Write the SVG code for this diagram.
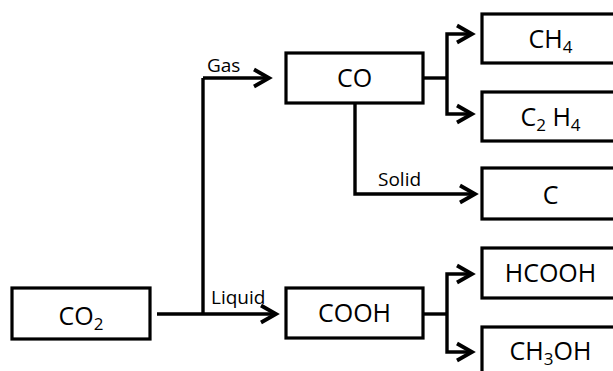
<svg xmlns="http://www.w3.org/2000/svg" width="613" height="371" viewBox="0 0 613 371">
<style>
.box{fill:#fff;stroke:#000;stroke-width:3.2}
.t{font-family:"Open Sans","Noto Sans","DejaVu Sans",sans-serif;font-size:25px;fill:#000;text-anchor:middle}
.s{font-size:17px}
.lbl{font-family:"Open Sans","Noto Sans","DejaVu Sans",sans-serif;font-size:19px;fill:#000}
.c{fill:none;stroke:#000;stroke-width:3.4;marker-end:url(#ah)}
.n{fill:none;stroke:#000;stroke-width:3.4}
</style>
<defs>
<marker id="ah" markerUnits="userSpaceOnUse" viewBox="-20 -12 24 24" refX="0" refY="0" markerWidth="24" markerHeight="24" orient="auto">
<path d="M-15,-8.5 L0,0 L-15,8.5" fill="none" stroke="#000" stroke-width="3.8"/>
</marker>
</defs>
<rect width="613" height="371" fill="#fff"/>
<g id="connectors">
<path class="c" d="M157,314 H276"/>
<path class="n" d="M203,314 V78"/>
<path class="c" d="M203,78 H269"/>
<path class="n" d="M423,78 H447"/>
<path class="c" d="M447,78 V34 H472"/>
<path class="c" d="M447,78 V114 H472"/>
<path class="c" d="M355,103 V194 H475"/>
<path class="n" d="M423,314 H447"/>
<path class="c" d="M447,314 V274 H472"/>
<path class="c" d="M447,314 V352 H472"/>
<text class="lbl" x="207" y="72">Gas</text>
<text class="lbl" x="211" y="304">Liquid</text>
<text class="lbl" x="378" y="186">Solid</text>
</g>
<g id="co2"><rect class="box" x="12" y="288" width="138" height="51"/><text class="t" x="81" y="325">CO<tspan class="s" dy="5">2</tspan></text></g>
<g id="co"><rect class="box" x="286" y="53" width="137" height="50"/><text class="t" x="354.5" y="87">CO</text></g>
<g id="cooh"><rect class="box" x="286" y="288" width="137" height="50"/><text class="t" x="354.5" y="322">COOH</text></g>
<g id="ch4"><rect class="box" x="482" y="14" width="137" height="49"/><text class="t" x="550.5" y="48">CH<tspan class="s" dy="5">4</tspan></text></g>
<g id="c2h4"><rect class="box" x="482" y="92" width="137" height="49"/><text class="t" x="550.5" y="126">C<tspan class="s" dy="5">2</tspan><tspan dy="-5"> H</tspan><tspan class="s" dy="5">4</tspan></text></g>
<g id="c"><rect class="box" x="482" y="168" width="137" height="51"/><text class="t" x="550.5" y="204">C</text></g>
<g id="hcooh"><rect class="box" x="482" y="248" width="137" height="50"/><text class="t" x="550.5" y="282">HCOOH</text></g>
<g id="ch3oh"><rect class="box" x="482" y="327" width="137" height="60"/><text class="t" x="550.5" y="360">CH<tspan class="s" dy="5">3</tspan><tspan dy="-5">OH</tspan></text></g>
</svg>
